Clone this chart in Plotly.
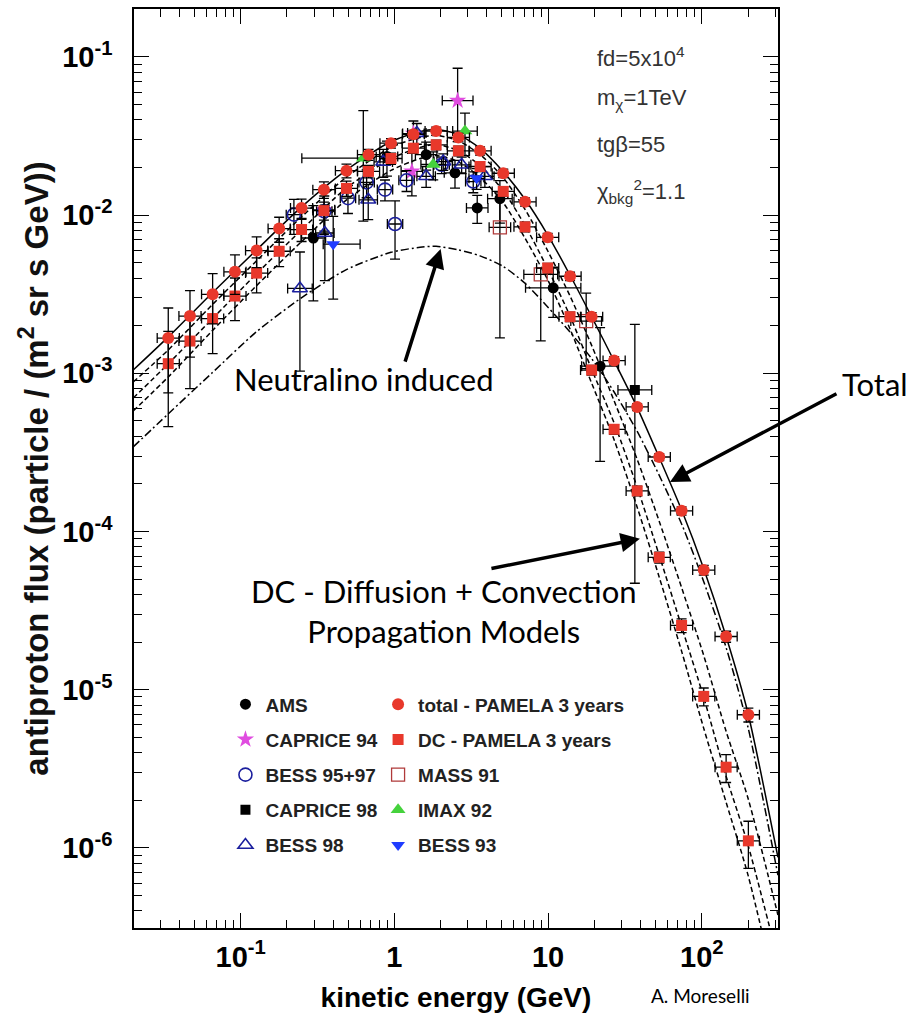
import numpy as np
import plotly.graph_objects as go

# ---------------- values ----------------
# PAMELA 3-year expectation (both PAMELA series share the energy bins)
pamela_E = [0.0338, 0.0468, 0.0657, 0.0918, 0.127, 0.178, 0.249, 0.348, 0.488, 0.679,
            0.951, 1.33, 1.87, 2.61, 3.61, 5.11, 7.08, 9.94, 13.9, 19.2,
            26.9, 38.0, 52.9, 73.9, 103, 144, 201]
pamela_total = [1.67e-3, 2.30e-3, 3.16e-3, 4.38e-3, 5.97e-3, 8.22e-3, 1.109e-2, 1.449e-2, 1.91e-2, 2.41e-2,
                2.85e-2, 3.24e-2, 3.40e-2, 3.10e-2, 2.55e-2, 1.84e-2, 1.214e-2, 7.24e-3, 4.11e-3, 2.28e-3,
                1.204e-3, 6.13e-4, 2.96e-4, 1.352e-4, 5.71e-5, 2.17e-5, 6.95e-6]
pamela_total_relerr = [0.55, 0.45, 0.35, 0.28, 0.22, 0.18, 0.14, 0.12, 0.10, 0.08,
                       0.07, 0.06, 0.06, 0.06, 0.06, 0.06, 0.06, 0.06, 0.06, 0.06,
                       0.06, 0.05, 0.05, 0.06, 0.07, 0.08, 0.10]
pamela_dc = [1.151e-3, 1.60e-3, 2.22e-3, 3.08e-3, 4.30e-3, 5.91e-3, 8.11e-3, 1.068e-2, 1.476e-2, 1.89e-2,
             2.28e-2, 2.65e-2, 2.78e-2, 2.55e-2, 2.03e-2, 1.413e-2, 8.43e-3, 4.63e-3, 2.28e-3, 1.049e-3,
             4.43e-4, 1.807e-4, 6.87e-5, 2.55e-5, 9.08e-6, 3.24e-6, 1.109e-6]
pamela_dc_relerr = [0.60, 0.50, 0.40, 0.30, 0.25, 0.20, 0.16, 0.13, 0.11, 0.09,
                    0.08, 0.07, 0.07, 0.07, 0.07, 0.07, 0.07, 0.07, 0.07, 0.07,
                    0.07, 0.07, 0.08, 0.10, 0.13, 0.20, 0.33]
pamela_halfbin = [0.072] * len(pamela_E)   # half bin width, decades

ams_E = [0.297, 0.895, 1.61, 2.48, 3.46, 4.86, 10.8, 21.8]
ams_F = [7.17e-3, 2.35e-2, 2.41e-2, 1.85e-2, 1.11e-2, 1.27e-2, 3.47e-3, 1.11e-3]
ams_eup = [0.6, 0.25, 0.2, 0.2, 0.2, 0.3, 0.35, 0.75]
ams_edn = [0.6, 0.25, 0.2, 0.2, 0.2, 0.3, 0.35, 0.75]
ams_xw = [0.08, 0.07, 0.07, 0.07, 0.07, 0.08, 0.18, 0.12]

c94_E = [0.348, 1.30, 1.33, 2.58]
c94_F = [1.08e-2, 1.89e-2, 3.28e-2, 5.30e-2]
c94_eup = [0.3, 0.3, 0.2, 0.6]
c94_edn = [0.3, 0.3, 0.2, 0.45]
c94_xw = [0.07, 0.07, 0.07, 0.1]

b9597_E = [0.222, 0.350, 0.499, 0.660, 0.869, 1.01, 1.20, 2.03, 3.26]
b9597_F = [1.007e-2, 1.057e-2, 1.28e-2, 1.61e-2, 1.45e-2, 8.79e-3, 1.66e-2, 2.08e-2, 1.63e-2]
b9597_err = [0.25, 0.25, 0.2, 0.2, 0.15, 0.4, 0.15, 0.12, 0.15]
b9597_xw = [0.05] * 9

c98_E = [36.7]
c98_F = [7.85e-4]
c98_eup = [1.6]
c98_edn = [0.94]
c98_xw = [0.11]

b98_E = [0.243, 0.353, 0.676, 0.847, 1.40, 1.61, 2.08, 2.74, 3.88]
b98_F = [3.44e-3, 7.71e-3, 1.25e-2, 2.17e-2, 3.30e-2, 1.76e-2, 2.18e-2, 2.08e-2, 1.76e-2]
b98_err = [0.7, 0.5, 0.25, 0.2, 0.15, 0.15, 0.12, 0.12, 0.15]
b98_xw = [0.08, 0.06, 0.06, 0.06, 0.06, 0.06, 0.06, 0.06, 0.06]

mass_E = [4.86, 8.96, 17.7]
mass_F = [8.38e-3, 4.22e-3, 2.14e-3]
mass_eup = [0.65, 0.1, 0.5]
mass_edn = [0.8, 0.62, 0.5]
mass_xw = [0.07, 0.11, 0.1]

imax_E = [0.628, 1.79, 2.88]
imax_F = [2.29e-2, 2.09e-2, 3.40e-2]
imax_eup = [1.0, 0.2, 0.3]
imax_edn = [0.6, 0.2, 0.3]
imax_xlo = [0.4, 0.08, 0.08]
imax_xhi = [0.02, 0.08, 0.08]

b93_E = [0.400, 3.43]
b93_F = [6.55e-3, 1.71e-2]
b93_eup = [0.5, 0.15]
b93_edn = [0.55, 0.15]
b93_xlo = [0.065, 0.05]
b93_xhi = [0.175, 0.05]

# model curves
model_E = [0.02, 0.0337, 0.065, 0.126, 0.247, 0.484, 0.951, 1.47, 1.87, 2.59, 3.61, 5.09,
           7.08, 9.98, 13.9, 19.3, 26.9, 37.9, 52.7, 74.3, 103, 144, 200, 313]
total_model = [1.050e-3, 1.694e-3, 3.21e-3, 5.99e-3, 1.119e-2, 1.918e-2, 2.92e-2, 3.38e-2, 3.48e-2,
               3.24e-2, 2.64e-2, 1.888e-2, 1.259e-2, 7.46e-3, 4.17e-3, 2.26e-3, 1.197e-3, 6.12e-4,
               2.96e-4, 1.352e-4, 5.82e-5, 2.17e-5, 7.08e-6, 8.73e-7]
dc_upper = [8.81e-4, 1.403e-3, 2.70e-3, 5.11e-3, 9.68e-3, 1.730e-2, 2.68e-2, 3.10e-2, 3.19e-2,
            2.96e-2, 2.42e-2, 1.730e-2, 1.088e-2, 5.91e-3, 3.08e-3, 1.486e-3, 6.70e-4, 2.88e-4,
            1.172e-4, 4.36e-5, 1.645e-5, 5.46e-6, 2.06e-6, 3.77e-7]
dc_middle = [6.98e-4, 1.146e-3, 2.20e-3, 4.23e-3, 8.01e-3, 1.476e-2, 2.28e-2, 2.68e-2, 2.80e-2,
             2.56e-2, 2.06e-2, 1.432e-2, 8.61e-3, 4.55e-3, 2.30e-3, 1.049e-3, 4.86e-4, 1.919e-4,
             7.14e-5, 2.47e-5, 8.93e-6, 2.84e-6, 1.042e-6, 1.96e-7]
dc_lower = [5.78e-4, 9.46e-4, 1.849e-3, 3.56e-3, 6.75e-3, 1.241e-2, 1.918e-2, 2.28e-2, 2.38e-2,
            2.18e-2, 1.730e-2, 1.205e-2, 7.15e-3, 3.88e-3, 1.905e-3, 8.57e-4, 3.80e-4, 1.436e-4,
            5.20e-5, 1.722e-5, 5.70e-6, 1.945e-6, 6.73e-7, 1.096e-7]
neutralino = [3.43e-4, 5.53e-4, 1.004e-3, 1.823e-3, 2.99e-3, 4.51e-3, 5.82e-3, 6.26e-3, 6.35e-3,
              6.04e-3, 5.53e-3, 4.75e-3, 3.71e-3, 2.62e-3, 1.823e-3, 1.231e-3, 7.62e-4, 4.32e-4,
              2.28e-4, 1.104e-4, 4.82e-5, 1.849e-5, 5.78e-6, 6.73e-7]

x_ticks = [0.1, 1, 10, 100]
x_ticktext = ["10<sup>-1</sup>", "1", "10", "10<sup>2</sup>"]
y_ticks = [1e-6, 1e-5, 1e-4, 1e-3, 1e-2, 1e-1]
y_ticktext = ["10<sup>-6</sup>", "10<sup>-5</sup>", "10<sup>-4</sup>",
              "10<sup>-3</sup>", "10<sup>-2</sup>", "10<sup>-1</sup>"]

# ---------------- figure ----------------
fig = go.Figure()

def curve(y, dash):
    fig.add_trace(go.Scatter(x=model_E, y=y, mode="lines", showlegend=False,
                             line=dict(color="black", width=1.5, dash=dash, shape="spline", smoothing=0.7),
                             hoverinfo="skip"))

curve(neutralino, "8px,3px,2px,3px")
curve(dc_lower, "5px,3px")
curve(dc_middle, "5px,3px")
curve(dc_upper, "5px,3px")
curve(total_model, "solid")


def points(name, E, F, eup, edn, xlo, xhi, symbol, color, size, legend, rank,
           open_line=None):
    E = np.array(E, float); F = np.array(F, float)
    marker = dict(symbol=symbol, color=color, size=size)
    if open_line:
        marker["line"] = dict(color=color, width=open_line)
    else:
        marker["line"] = dict(width=0)
    fig.add_trace(go.Scatter(
        x=E, y=F, mode="markers", name=name, marker=marker,
        legend=legend, legendrank=rank, legendgroup=name,
        error_y=dict(type="data", symmetric=False,
                     array=F * np.array(eup), arrayminus=F * np.array(edn),
                     color="black", thickness=1.3, width=5),
        error_x=dict(type="data", symmetric=False,
                     array=E * (10 ** np.array(xhi) - 1),
                     arrayminus=E * (1 - 10 ** (-np.array(xlo))),
                     color="black", thickness=1.3, width=5),
    ))


BLUE_OPEN = "#1b1f9e"
RED = "#e8382b"
points("AMS", ams_E, ams_F, ams_eup, ams_edn, ams_xw, ams_xw, "circle", "black", 11, "legend", 1)
points("CAPRICE 94", c94_E, c94_F, c94_eup, c94_edn, c94_xw, c94_xw, "star", "#e04ce0", 13, "legend", 2)
points("BESS 95+97", b9597_E, b9597_F, b9597_err, b9597_err, b9597_xw, b9597_xw, "circle-open",
       BLUE_OPEN, 13, "legend", 3, open_line=1.6)
points("CAPRICE 98", c98_E, c98_F, c98_eup, c98_edn, c98_xw, c98_xw, "square", "black", 10, "legend", 4)
points("BESS 98", b98_E, b98_F, b98_err, b98_err, b98_xw, b98_xw, "triangle-up-open",
       BLUE_OPEN, 13, "legend", 5, open_line=1.6)
points("MASS 91", mass_E, mass_F, mass_eup, mass_edn, mass_xw, mass_xw, "square-open",
       "#b03a3a", 13, "legend2", 3, open_line=1.3)
points("IMAX 92", imax_E, imax_F, imax_eup, imax_edn, imax_xlo, imax_xhi, "triangle-up",
       "#45d23c", 13, "legend2", 4)
points("BESS 93", b93_E, b93_F, b93_eup, b93_edn, b93_xlo, b93_xhi, "triangle-down",
       "#1f3cff", 12, "legend2", 5)
points("DC - PAMELA 3 years", pamela_E, pamela_dc, pamela_dc_relerr, pamela_dc_relerr,
       pamela_halfbin, pamela_halfbin, "square", RED, 11, "legend2", 2)
points("total - PAMELA 3 years", pamela_E, pamela_total, pamela_total_relerr, pamela_total_relerr,
       pamela_halfbin, pamela_halfbin, "circle", RED, 12, "legend2", 1)

# minor ticks
x_minor = [m * 10.0 ** d for d in range(-2, 3) for m in range(2, 10)]
y_minor = [m * 10.0 ** d for d in range(-7, 0) for m in range(2, 10)]

axis_common = dict(type="log", showgrid=False, zeroline=False, showline=True, linecolor="black",
                   linewidth=1.5, mirror="allticks", ticks="inside", ticklen=15, tickwidth=1.3,
                   tickcolor="black",
                   tickfont=dict(family="Liberation Sans", size=29, color="black", weight="bold"))

fig.update_xaxes(**axis_common, range=[-1.694, 2.496], tickvals=x_ticks, ticktext=x_ticktext,
                 ticklabelstandoff=2,
                 minor=dict(ticks="inside", ticklen=8, tickwidth=1.3, tickcolor="black",
                            tickvals=x_minor, showgrid=False),
                 title=dict(text="kinetic energy (GeV)", standoff=16,
                            font=dict(family="Liberation Sans", size=28, color="black", weight="bold")))
fig.update_yaxes(**axis_common, range=[-6.506, -0.697], tickvals=y_ticks, ticktext=y_ticktext,
                 ticklabelstandoff=14,
                 minor=dict(ticks="inside", ticklen=8, tickwidth=1.3, tickcolor="black",
                            tickvals=y_minor, showgrid=False),
                 title=dict(text="antiproton flux (particle / (m<sup>2</sup> sr s GeV))", standoff=4,
                            font=dict(family="Liberation Sans", size=33, color="#111", weight="bold")))

legend_font = dict(family="Liberation Sans", size=19, color="#222", weight="bold")
fig.update_layout(
    width=920, height=1018,
    margin=dict(l=134, r=142, t=7, b=90),
    paper_bgcolor="white", plot_bgcolor="white",
    font=dict(family="Liberation Sans", color="black"),
    showlegend=True,
    legend=dict(x=0.142, y=0.264, xanchor="left", yanchor="top", bgcolor="rgba(0,0,0,0)",
                font=legend_font, traceorder="grouped", tracegroupgap=7.5, itemwidth=30),
    legend2=dict(x=0.379, y=0.264, xanchor="left", yanchor="top", bgcolor="rgba(0,0,0,0)",
                 font=legend_font, traceorder="grouped", tracegroupgap=7.5, itemwidth=30),
)

param_font = dict(family="Liberation Sans", size=22, color="#333")
ann = []
for txt, py in [("fd=5x10<sup>4</sup>", 0.948), ("m<sub>χ</sub>=1TeV", 0.902),
                ("tgβ=55", 0.853), ("χ<sub>bkg</sub><sup>2</sup>=1.1", 0.801)]:
    ann.append(dict(text=txt, x=0.716, y=py, xref="paper", yref="paper", xanchor="left",
                    yanchor="middle", showarrow=False, font=param_font))

label_font = dict(family="Lato", size=31, color="black")
ann.append(dict(text="Neutralino induced", x=0.357, y=0.597, xref="paper", yref="paper",
                xanchor="center", yanchor="middle", showarrow=False, font=label_font))
ann.append(dict(text="Total", x=1.151, y=0.592, xref="paper", yref="paper",
                xanchor="center", yanchor="middle", showarrow=False, font=label_font))
ann.append(dict(text="DC - Diffusion + Convection<br>Propagation Models", x=0.481, y=0.345,
                xref="paper", yref="paper", xanchor="center", yanchor="middle",
                showarrow=False, font=label_font))
ann.append(dict(text="A. Moreselli", x=0.879, y=-0.0738, xref="paper", yref="paper",
                xanchor="center", yanchor="middle", showarrow=False,
                font=dict(family="Lato", size=19, color="black")))

# arrows (heads in data coordinates, tails as pixel offsets)
for hx, hy, ax, ay in [(2.0, 6.1e-3, -36, 114), (62.1, 2.06e-4, 168, -89), (39.6, 9.0e-5, -150, 30)]:
    ann.append(dict(x=np.log10(hx), y=np.log10(hy), xref="x", yref="y", text="",
                    showarrow=True, ax=ax, ay=ay, arrowhead=2, arrowsize=1.1, arrowwidth=3.5,
                    arrowcolor="black"))

fig.update_layout(annotations=ann)
fig.write_html("out.html")
